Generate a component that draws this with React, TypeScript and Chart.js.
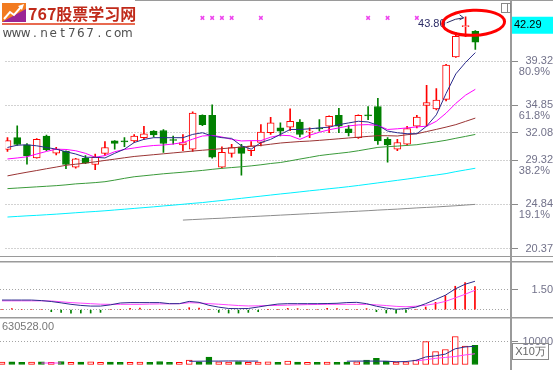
import React, { useEffect, useRef } from "react";
import { Chart, registerables } from "chart.js";

Chart.register(...registerables);

// ---------- price panel data (49 trading days) ----------
const OPEN = [30.39,31.58,30.86,29.53,31.75,30.02,30.19,28.60,29.50,28.87,30.00,31.26,31.20,31.26,31.58,32.25,32.31,31.35,30.86,30.42,33.83,33.83,28.60,30.00,30.66,30.26,31.09,32.08,32.57,32.64,33.17,32.15,32.50,32.74,33.83,32.47,31.58,33.83,34.73,31.41,30.42,30.92,32.74,34.83,34.49,35.45,39.75,42.80,42.33];
const HIGH = [31.60,32.77,30.99,31.48,31.85,30.60,30.26,29.50,29.77,29.93,31.19,31.30,31.58,31.90,32.74,32.30,32.40,31.75,31.90,34.20,33.90,34.90,30.66,30.92,30.92,31.19,32.90,33.64,33.07,34.49,33.40,32.57,33.40,33.80,34.56,32.84,33.90,34.73,35.55,31.58,31.41,32.74,33.83,36.87,36.54,39.00,42.23,43.80,42.40];
const LOW = [30.20,30.79,28.90,29.50,30.26,29.85,28.44,28.50,28.95,28.34,29.77,30.42,30.66,31.10,31.41,31.65,30.09,30.92,30.26,30.20,32.80,29.50,28.50,29.60,27.80,29.77,30.76,31.90,31.75,32.30,31.65,31.58,32.25,32.08,32.08,31.75,31.50,33.40,30.90,29.10,30.26,30.80,32.57,32.74,34.39,35.30,39.70,41.80,40.50];
const CLOSE = [31.28,30.89,29.77,31.41,30.36,30.42,28.87,29.43,29.00,29.60,30.59,30.99,31.15,31.75,31.98,31.85,30.99,31.30,31.09,34.06,32.90,29.60,30.09,30.59,30.00,30.76,32.15,33.07,32.25,33.24,31.90,32.20,32.46,33.73,32.74,32.08,33.83,33.78,31.26,30.86,31.09,32.50,33.67,35.13,35.38,38.92,41.83,42.85,41.23];

const MA5 = [30.59,30.82,30.86,30.76,30.59,30.42,30.16,29.93,29.60,29.60,29.53,30.00,30.42,31.09,31.41,31.58,31.58,31.58,31.58,31.91,32.08,31.75,31.58,31.51,30.76,30.42,31.09,31.41,31.91,32.41,32.41,32.48,32.57,32.64,32.90,33.07,33.24,33.17,32.84,32.25,32.08,31.98,31.98,32.74,33.89,36.05,38.03,39.19,40.18];
const MA10 = [29.43,29.53,29.65,29.93,30.19,30.42,30.39,30.26,30.00,29.60,29.77,30.16,30.39,30.54,30.69,30.79,30.84,30.94,31.09,31.43,31.75,31.81,31.65,31.41,31.25,31.28,31.28,31.63,31.83,31.78,31.41,31.83,32.13,32.38,32.57,32.77,32.87,32.90,32.82,32.41,32.48,32.57,32.67,32.74,33.24,34.06,35.05,35.88,36.47];
const MA20 = [27.72,27.91,28.09,28.26,28.44,28.61,28.79,28.90,29.01,29.14,29.28,29.41,29.55,29.68,29.77,29.86,29.95,30.04,30.13,30.23,30.31,30.39,30.47,30.55,30.63,30.71,30.80,30.92,31.04,31.12,31.19,31.24,31.31,31.39,31.47,31.55,31.63,31.71,31.78,31.78,31.75,31.88,31.98,32.20,32.42,32.65,32.90,33.23,33.56];
const MA30 = [26.43,26.49,26.55,26.61,26.67,26.73,26.81,26.91,26.97,27.04,27.13,27.29,27.47,27.63,27.73,27.83,27.93,28.01,28.09,28.18,28.27,28.38,28.48,28.56,28.64,28.73,28.84,28.97,29.07,29.24,29.42,29.59,29.77,29.89,30.00,30.11,30.26,30.43,30.60,30.67,30.73,30.80,30.87,31.02,31.16,31.32,31.52,31.71,31.91];
const MA60 = [23.56,23.62,23.68,23.73,23.79,23.85,23.92,23.99,24.06,24.12,24.19,24.27,24.35,24.43,24.51,24.59,24.68,24.76,24.85,24.94,25.02,25.13,25.23,25.34,25.45,25.56,25.67,25.78,25.89,25.99,26.10,26.21,26.31,26.42,26.52,26.63,26.75,26.88,27.01,27.14,27.27,27.40,27.54,27.68,27.81,27.95,28.15,28.32,28.49];
const MA120_START = 18;
const MA120 = [23.25,23.30,23.35,23.40,23.44,23.50,23.55,23.60,23.65,23.70,23.75,23.80,23.85,23.90,23.95,24.00,24.05,24.10,24.15,24.20,24.26,24.31,24.36,24.42,24.48,24.53,24.58,24.64,24.70,24.77,24.84];

const MARK_IDX = [20, 21, 22, 23, 26, 37, 39, 42];
const MARK_PRICE = 43.69;

const PRICE_TICKS = [39.32, 34.85, 32.08, 29.32, 24.84, 20.37];
const PCT_LABELS = ["80.9%", "61.8%", "", "38.2%", "19.1%", ""];
const LAST_PRICE = 42.29;

// ---------- MACD panel ----------
const DIF = [0.72,0.72,0.72,0.72,0.68,0.61,0.51,0.40,0.32,0.27,0.27,0.36,0.50,0.53,0.53,0.53,0.53,0.45,0.45,0.62,0.55,0.33,0.19,0.09,0.08,0.09,0.20,0.32,0.42,0.45,0.45,0.45,0.45,0.46,0.48,0.53,0.55,0.45,0.26,0.12,0.03,0.08,0.19,0.45,0.76,1.08,1.55,1.90,2.12];
const DEA = [0.66,0.66,0.66,0.66,0.66,0.65,0.59,0.53,0.49,0.45,0.41,0.40,0.40,0.40,0.40,0.42,0.43,0.44,0.45,0.52,0.50,0.45,0.41,0.36,0.31,0.28,0.29,0.31,0.32,0.34,0.36,0.38,0.39,0.40,0.40,0.40,0.40,0.40,0.36,0.31,0.25,0.22,0.26,0.33,0.45,0.62,0.88,1.15,1.45];
const HIST = [0,0.08,0,0,0,-0.15,-0.2,-0.25,-0.25,-0.25,-0.2,0,0,0.1,0.12,0,0,0,0,0.15,0.12,0,-0.2,-0.25,-0.25,-0.2,-0.15,0,0,0.1,0.08,0,0,0.1,0.08,0,0,0.08,-0.15,-0.25,-0.25,-0.2,0,0.2,0.55,1.05,1.75,2.03,1.72];
const MACD_TICKS = [0, 1.5];

// ---------- volume panel ----------
const VOLUME = [1100,1200,1000,1100,1200,900,1300,1000,1100,1200,1000,1100,900,1000,1100,1000,1300,900,1000,1900,1200,3300,1200,1100,1300,1000,1100,1200,1000,1500,1100,900,1000,1100,1000,1100,1200,1900,2700,1500,1100,1200,1900,10000,5660,6580,12280,8110,8420];
const VOL_MA5 = [null,null,null,null,null,null,null,null,null,null,null,null,null,null,null,null,null,null,null,1400,1450,1500,1500,1550,1550,1500,1500,null,null,null,null,null,null,null,null,1450,1500,1500,1500,1450,1200,1300,1800,3300,3800,4560,6900,7700,8000];
const VOL_MA10 = [null,null,null,null,650,650,650,null,null,null,null,null,null,null,null,null,null,null,null,null,null,null,null,null,null,null,null,null,null,null,null,null,null,null,null,null,null,null,null,null,null,null,1500,2100,2700,3100,3500,4200,4700];
const VOL_TICKS = [10000];
const VOL_TITLE = "630528.00";
const VOL_UNIT = "X10万";

// ---------- layout / style ----------
const W = 553;
const AXIS_X = 511;
const LABEL_RIGHT = 550;
const TICK_LEN = 7;
const X_MIN = -0.203;
const X_MAX = 51.66;
const FONT = "'Liberation Sans', Arial, sans-serif";
const RED = "#ff0000";
const GREEN = "#008000";
const AXIS_TEXT = "#72728a";
const FRAME = "#9a9a9a";

const pts = (arr: (number | null)[], start = 0) => arr.map((v, i) => ({ x: i + start, y: v }));
const idx = CLOSE.map((_, i) => i);
const isUp = (i: number) => CLOSE[i] >= OPEN[i];

const measureCtx = document.createElement("canvas").getContext("2d") as CanvasRenderingContext2D;
const measure = (t: string) => {
  measureCtx.font = `11px ${FONT}`;
  return measureCtx.measureText(t).width;
};

function xAxis() {
  return {
    type: "linear",
    min: X_MIN,
    max: X_MAX,
    display: false,
    offset: false,
    afterFit: (s: any) => {
      s.paddingLeft = 0;
      s.paddingRight = 0;
      s.paddingTop = 0;
      s.paddingBottom = 0;
    },
  };
}

function yAxis(min: number, max: number, ticks: number[], fmt: (v: number) => string) {
  const labels = ticks.map(fmt);
  const widest = Math.max(...labels.map(measure));
  return {
    position: "right",
    min,
    max,
    afterFit: (s: any) => {
      s.width = W - AXIS_X;
      s.paddingTop = 0;
      s.paddingBottom = 0;
      s.paddingLeft = 0;
      s.paddingRight = 0;
    },
    afterBuildTicks: (s: any) => {
      s.ticks = ticks.map((v) => ({ value: v }));
    },
    ticks: {
      callback: (v: number) => fmt(v),
      font: { family: FONT, size: 11 },
      color: AXIS_TEXT,
      padding: Math.max(0, LABEL_RIGHT - AXIS_X - TICK_LEN - widest),
      crossAlign: "far",
      autoSkip: false,
      maxRotation: 0,
    },
    grid: {
      color: "#a4a4a4",
      lineWidth: 1,
      tickLength: TICK_LEN,
      tickColor: (c: any) => (c.tick && fmt(c.tick.value) === "" ? "rgba(0,0,0,0)" : "#8a8a8a"),
      tickBorderDash: [],
    },
    border: { display: false, dash: [1, 2] },
  };
}

function line(ctx: CanvasRenderingContext2D, x1: number, y1: number, x2: number, y2: number) {
  ctx.beginPath();
  ctx.moveTo(x1, y1);
  ctx.lineTo(x2, y2);
  ctx.stroke();
}

function drawAxisLine(ctx: CanvasRenderingContext2D, h: number) {
  ctx.strokeStyle = FRAME;
  ctx.lineWidth = 2;
  line(ctx, AXIS_X, 0, AXIS_X, h);
}

const mainDeco = {
  id: "mainDeco",
  afterDraw(chart: any) {
    const { ctx } = chart;
    const xs = chart.scales.x;
    const ys = chart.scales.y;
    ctx.save();
    // frame
    ctx.strokeStyle = FRAME;
    ctx.lineWidth = 1;
    line(ctx, 135, 0.5, W, 0.5);
    line(ctx, 0, 256.5, W, 256.5);
    drawAxisLine(ctx, chart.height);

    // logo icon
    ctx.fillStyle = "#f27b20";
    ctx.fillRect(2, 3, 24, 19);
    ctx.fillStyle = "#9a2596";
    ctx.beginPath();
    ctx.moveTo(2, 22);
    ctx.lineTo(26, 9);
    ctx.lineTo(26, 22);
    ctx.closePath();
    ctx.fill();
    ctx.strokeStyle = "#ffffff";
    ctx.lineWidth = 2;
    ctx.beginPath();
    ctx.moveTo(4, 19);
    ctx.lineTo(10, 12);
    ctx.lineTo(14, 15);
    ctx.lineTo(21, 7);
    ctx.stroke();
    ctx.fillStyle = "#ffffff";
    ctx.beginPath();
    ctx.moveTo(24, 4);
    ctx.lineTo(18, 6);
    ctx.lineTo(22, 10);
    ctx.closePath();
    ctx.fill();
    // logo text
    ctx.fillStyle = "#c02a1a";
    ctx.font = "bold 16px 'Noto Sans CJK SC', sans-serif";
    ctx.textAlign = "left";
    ctx.textBaseline = "alphabetic";
    ctx.fillText("767股票学习网", 28, 20);
    ctx.strokeStyle = "#e86a50";
    ctx.lineWidth = 2;
    line(ctx, 2, 24, 135, 24);
    ctx.fillStyle = "#505050";
    ctx.font = "12px 'DejaVu Sans', sans-serif";
    ctx.textAlign = "center";
    const url = "www.net767.com";
    for (let k = 0; k < url.length; k++) ctx.fillText(url[k], 7.3 + 9.2 * k, 37);

    // small window icon
    ctx.strokeStyle = "#888";
    ctx.lineWidth = 1;
    ctx.strokeRect(501.5, 3.5, 9, 9);
    line(ctx, 507.5, 3.5, 507.5, 12.5);

    // percentage labels
    ctx.fillStyle = AXIS_TEXT;
    ctx.font = `11px ${FONT}`;
    ctx.textAlign = "right";
    ctx.textBaseline = "middle";
    PRICE_TICKS.forEach((v, k) => {
      if (PCT_LABELS[k]) ctx.fillText(PCT_LABELS[k], LABEL_RIGHT, ys.getPixelForValue(v) + 10.5);
    });

    // last price box
    const ly = ys.getPixelForValue(LAST_PRICE) - 6.5;
    ctx.fillStyle = "#00ffff";
    ctx.fillRect(AXIS_X + 1, ly - 8.5, W - AXIS_X - 1, 17);
    ctx.fillStyle = "#000";
    ctx.textAlign = "left";
    ctx.fillText(LAST_PRICE.toFixed(2), AXIS_X + 3, ly);

    // highest label + arrow + ellipse
    const hMax = Math.max(...HIGH);
    const hi = HIGH.indexOf(hMax);
    const hx = xs.getPixelForValue(hi);
    const hy = ys.getPixelForValue(hMax);
    ctx.fillStyle = "#2c2c66";
    ctx.textAlign = "right";
    ctx.fillText(hMax.toFixed(2), hx - 20, hy + 7.5);
    ctx.strokeStyle = "#2c2c66";
    ctx.lineWidth = 1;
    ctx.beginPath();
    ctx.moveTo(hx - 19, hy + 6);
    ctx.quadraticCurveTo(hx - 10, hy + 1.5, hx - 2, hy + 1);
    ctx.stroke();
    ctx.beginPath();
    ctx.moveTo(hx - 6, hy - 2);
    ctx.lineTo(hx - 2, hy + 1);
    ctx.lineTo(hx - 6, hy + 3);
    ctx.stroke();
    ctx.strokeStyle = RED;
    ctx.lineWidth = 3;
    ctx.beginPath();
    ctx.ellipse(hx + 8, hy + 6, 31, 12.5, -0.04, 0, Math.PI * 2);
    ctx.stroke();
    ctx.restore();
  },
};

const macdDeco = {
  id: "macdDeco",
  afterDraw(chart: any) {
    const { ctx } = chart;
    ctx.save();
    ctx.strokeStyle = FRAME;
    ctx.lineWidth = 1.5;
    line(ctx, 0, 4.75, W, 4.75);
    drawAxisLine(ctx, chart.height);
    ctx.restore();
  },
};

const volDeco = {
  id: "volDeco",
  afterDraw(chart: any) {
    const { ctx } = chart;
    ctx.save();
    ctx.strokeStyle = FRAME;
    ctx.lineWidth = 1.5;
    line(ctx, 0, 0.75, W, 0.75);
    drawAxisLine(ctx, chart.height);
    ctx.fillStyle = "#777";
    ctx.font = `11px ${FONT}`;
    ctx.textAlign = "left";
    ctx.textBaseline = "middle";
    ctx.fillText(VOL_TITLE, 2, 9.5);
    // unit box
    ctx.strokeStyle = "#8a8a8a";
    ctx.lineWidth = 1;
    ctx.strokeRect(512.5, 26.5, 36, 16);
    ctx.fillStyle = "#666";
    ctx.textAlign = "center";
    ctx.fillText(VOL_UNIT, 530.5, 35);
    ctx.restore();
  },
};

const baseOptions = (padTop: number, padBottom: number) => ({
  animation: false,
  responsive: false,
  maintainAspectRatio: false,
  devicePixelRatio: 1,
  layout: { padding: { top: padTop, bottom: padBottom, left: 0, right: 0 } },
  plugins: { legend: { display: false }, tooltip: { enabled: false } },
  events: [],
});

const maLine = (data: any[], color: string) => ({
  type: "line",
  data,
  borderColor: color,
  borderWidth: 1,
  pointRadius: 0,
  tension: 0,
  spanGaps: false,
  order: 0,
});

export default function App() {
  const mainRef = useRef<HTMLCanvasElement>(null);
  const macdRef = useRef<HTMLCanvasElement>(null);
  const volRef = useRef<HTMLCanvasElement>(null);

  useEffect(() => {
    const charts: Chart[] = [];

    // main price chart: chart area y 15..256 (canvas height 257)
    charts.push(
      new Chart(mainRef.current as HTMLCanvasElement, {
        type: "bar",
        data: {
          datasets: [
            maLine(pts(MA5), "#2b2b8c"),
            maLine(pts(MA10), "#ff00ff"),
            maLine(pts(MA20), "#9a3434"),
            maLine(pts(MA30), "#3a9a3a"),
            maLine(pts(MA60), "#00f0ff"),
            maLine(pts(MA120, MA120_START), "#8c8c8c"),
            {
              type: "line",
              data: MARK_IDX.map((i) => ({ x: i, y: MARK_PRICE })),
              showLine: false,
              pointStyle: "crossRot",
              pointRadius: 2.5,
              borderColor: "#ee44ee",
              borderWidth: 1.5,
              order: 0,
            },
            {
              type: "bar",
              data: idx.map((i) => ({ x: i, y: [OPEN[i], CLOSE[i]] })),
              backgroundColor: (c: any) => (isUp(c.dataIndex ?? 0) ? "#ffffff" : GREEN),
              borderColor: (c: any) => (isUp(c.dataIndex ?? 0) ? RED : GREEN),
              borderWidth: 1,
              borderSkipped: false,
              barThickness: 7,
              minBarLength: 1,
              grouped: false,
              order: 1,
            },
            {
              type: "bar",
              data: idx.map((i) => ({ x: i, y: [LOW[i], HIGH[i]] })),
              backgroundColor: (c: any) => (isUp(c.dataIndex ?? 0) ? RED : GREEN),
              borderWidth: 0,
              barThickness: 1,
              grouped: false,
              order: 2,
            },
          ],
        },
        options: {
          ...baseOptions(15, 1),
          scales: {
            x: xAxis(),
            y: yAxis(20.074, 43.983, PRICE_TICKS, (v) => v.toFixed(2)),
          },
        } as any,
        plugins: [mainDeco],
      } as any)
    );

    // MACD chart: chart area abs y 262..317
    charts.push(
      new Chart(macdRef.current as HTMLCanvasElement, {
        type: "bar",
        data: {
          datasets: [
            maLine(pts(DIF), "#2b2b8c"),
            maLine(pts(DEA), "#ff44ff"),
            {
              type: "bar",
              data: pts(HIST),
              backgroundColor: (c: any) => ((HIST[c.dataIndex ?? 0] ?? 0) >= 0 ? RED : GREEN),
              borderWidth: 0,
              barThickness: 1,
              grouped: false,
              order: 1,
            },
          ],
        },
        options: {
          ...baseOptions(5, 0),
          scales: {
            x: xAxis(),
            y: yAxis(-0.545, 3.56, MACD_TICKS, (v) => (v === 0 ? "" : v.toFixed(2))),
          },
        } as any,
        plugins: [macdDeco],
      } as any)
    );

    // volume chart: chart area abs y 317..370
    charts.push(
      new Chart(volRef.current as HTMLCanvasElement, {
        type: "bar",
        data: {
          datasets: [
            maLine(pts(VOL_MA5), "#2b2b8c"),
            maLine(pts(VOL_MA10), "#ff44ff"),
            {
              type: "bar",
              data: pts(VOLUME),
              backgroundColor: (c: any) => (isUp(c.dataIndex ?? 0) ? "#ffffff" : GREEN),
              borderColor: (c: any) => (isUp(c.dataIndex ?? 0) ? RED : GREEN),
              borderWidth: 1,
              borderSkipped: false,
              barThickness: 6,
              grouped: false,
              order: 1,
            },
          ],
        },
        options: {
          ...baseOptions(0, 0),
          scales: {
            x: xAxis(),
            y: yAxis(-2412, 20833, VOL_TICKS, (v) => String(v)),
          },
        } as any,
        plugins: [volDeco],
      } as any)
    );

    return () => charts.forEach((c) => c.destroy());
  }, []);

  return (
    <div
      style={{
        position: "absolute",
        left: 0,
        top: 0,
        width: W,
        height: 370,
        background: "#ffffff",
        overflow: "hidden",
      }}
    >
      <canvas ref={mainRef} width={W} height={257} style={{ position: "absolute", left: 0, top: 0 }} />
      <canvas ref={macdRef} width={W} height={60} style={{ position: "absolute", left: 0, top: 257 }} />
      <canvas ref={volRef} width={W} height={53} style={{ position: "absolute", left: 0, top: 317 }} />
    </div>
  );
}
